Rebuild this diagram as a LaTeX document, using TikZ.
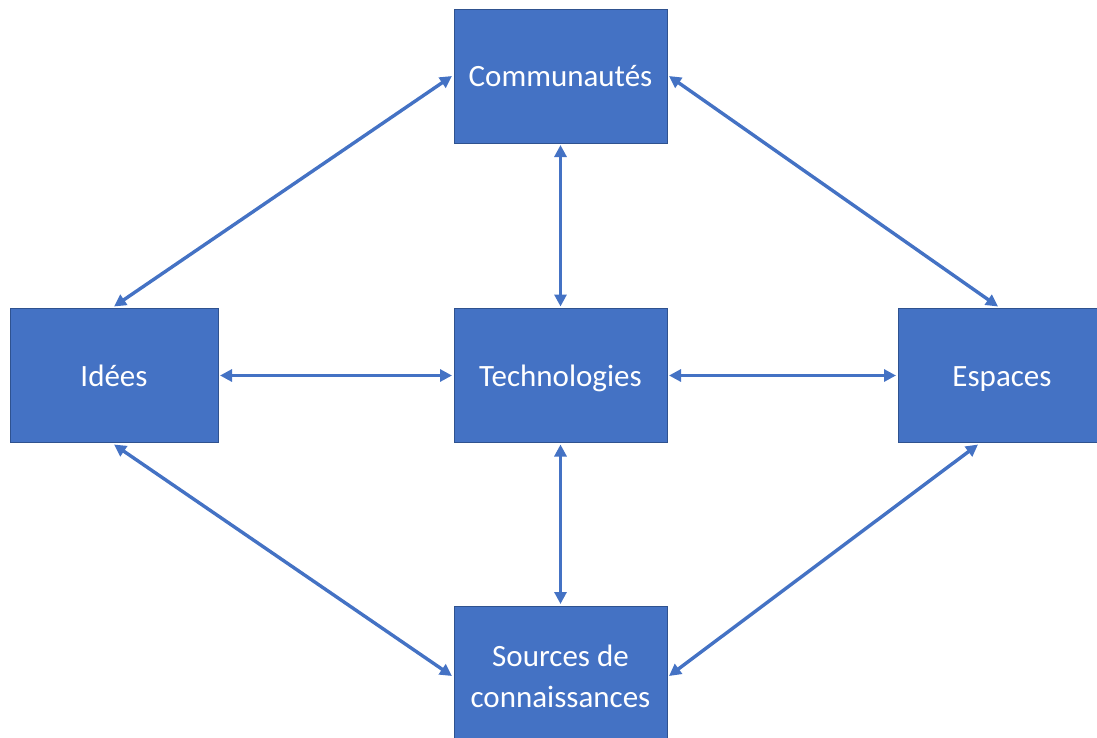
\documentclass[tikz,border=0pt]{standalone}
\usepackage{fontspec}
\setmainfont{Carlito}
\usetikzlibrary{arrows.meta}
\definecolor{boxblue}{HTML}{4472C4}
\definecolor{boxedge}{HTML}{2F528F}
\begin{document}
\begin{tikzpicture}[x=1pt,y=-1pt,
  box/.style={draw=boxedge, line width=0.8pt, fill=boxblue, text=white,
    minimum width=213pt, minimum height=134pt, align=center, inner sep=0pt,
    outer sep=2pt, font=\fontsize{31}{41}\selectfont},
  oneline/.style={text height=24pt, text depth=3pt},
  link/.style={draw=boxblue, line width=3.4pt,
    {Triangle[length=12pt,width=12pt]}-{Triangle[length=12pt,width=12pt]}}]
\useasboundingbox (0,0) rectangle (1097,737);
\clip (0,0) rectangle (1097,737);
% boxes
\node[box, oneline] (com) at (560.5,76) {Communautés};
\node[box, oneline, minimum width=208pt] (ide) at (114,375.5) {Idées};
\node[box, oneline] (tec) at (560.5,375.5) {Technologies};
\node[box, oneline, minimum width=208pt] (esp) at (1002,375.5) {Espaces};
\node[box, minimum height=140pt] (src) at (560.5,676) {Sources de\\connaissances};
% links
\draw[link] (ide.north) -- (com.west);
\draw[link] (com.east) -- ([xshift=-4pt]esp.north);
\draw[link] (com.south) -- (tec.north);
\draw[link] (ide.east) -- (tec.west);
\draw[link] (tec.east) -- (esp.west);
\draw[link] (tec.south) -- (src.north);
\draw[link] (ide.south) -- (src.west);
\draw[link] ([xshift=-24pt]esp.south) -- (src.east);
\end{tikzpicture}
\end{document}
